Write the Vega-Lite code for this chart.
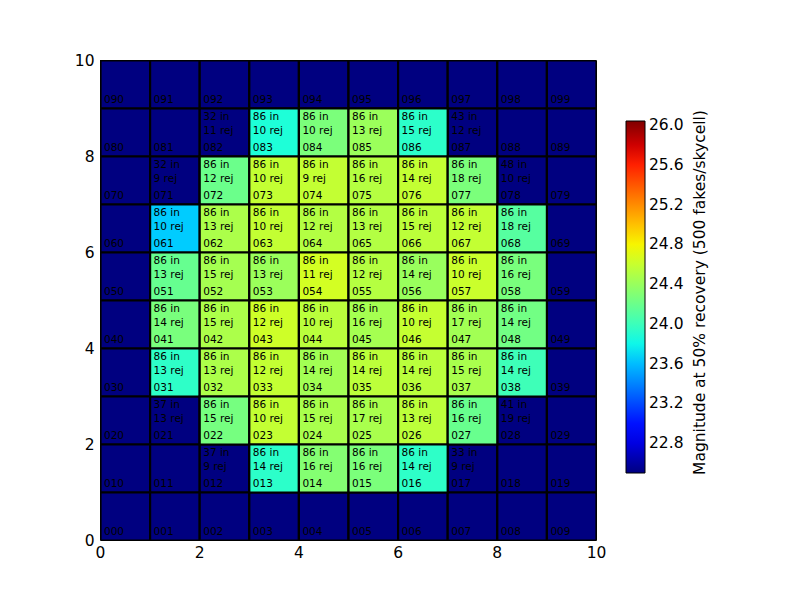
{
  "$schema": "https://vega.github.io/schema/vega-lite/v6.json",
  "width": 496,
  "height": 480,
  "autosize": "none",
  "padding": {"left": 100, "top": 60, "right": 204, "bottom": 60},
  "background": "white",
  "config": {
    "font": "DejaVu Sans",
    "view": {"stroke": "black", "strokeWidth": 1},
    "axis": {"labelFont": "DejaVu Sans", "labelFontSize": 15.5, "labelColor": "black", "ticks": false, "domain": false, "grid": false, "title": null},
    "legend": {"labelFont": "DejaVu Sans", "titleFont": "DejaVu Sans"}
  },
  "resolve": {"axis": {"y": "independent"}},
  "data": {"values": [
    {"col":0,"row":9,"id":"090"},{"col":1,"row":9,"id":"091"},{"col":2,"row":9,"id":"092"},{"col":3,"row":9,"id":"093"},{"col":4,"row":9,"id":"094"},{"col":5,"row":9,"id":"095"},{"col":6,"row":9,"id":"096"},{"col":7,"row":9,"id":"097"},{"col":8,"row":9,"id":"098"},{"col":9,"row":9,"id":"099"},
    {"col":0,"row":8,"id":"080"},{"col":1,"row":8,"id":"081"},{"col":2,"row":8,"id":"082","nin":32,"nrej":11},{"col":3,"row":8,"id":"083","mag":23.87,"nin":86,"nrej":10},{"col":4,"row":8,"id":"084","mag":24.27,"nin":86,"nrej":10},{"col":5,"row":8,"id":"085","mag":24.41,"nin":86,"nrej":13},{"col":6,"row":8,"id":"086","mag":23.93,"nin":86,"nrej":15},{"col":7,"row":8,"id":"087","nin":43,"nrej":12},{"col":8,"row":8,"id":"088"},{"col":9,"row":8,"id":"089"},
    {"col":0,"row":7,"id":"070"},{"col":1,"row":7,"id":"071","nin":32,"nrej":9},{"col":2,"row":7,"id":"072","mag":24.20,"nin":86,"nrej":12},{"col":3,"row":7,"id":"073","mag":24.58,"nin":86,"nrej":10},{"col":4,"row":7,"id":"074","mag":24.58,"nin":86,"nrej":9},{"col":5,"row":7,"id":"075","mag":24.52,"nin":86,"nrej":16},{"col":6,"row":7,"id":"076","mag":24.58,"nin":86,"nrej":14},{"col":7,"row":7,"id":"077","mag":24.27,"nin":86,"nrej":18},{"col":8,"row":7,"id":"078","nin":48,"nrej":10},{"col":9,"row":7,"id":"079"},
    {"col":0,"row":6,"id":"060"},{"col":1,"row":6,"id":"061","mag":23.65,"nin":86,"nrej":10},{"col":2,"row":6,"id":"062","mag":24.48,"nin":86,"nrej":13},{"col":3,"row":6,"id":"063","mag":24.58,"nin":86,"nrej":10},{"col":4,"row":6,"id":"064","mag":24.51,"nin":86,"nrej":12},{"col":5,"row":6,"id":"065","mag":24.51,"nin":86,"nrej":13},{"col":6,"row":6,"id":"066","mag":24.55,"nin":86,"nrej":15},{"col":7,"row":6,"id":"067","mag":24.58,"nin":86,"nrej":12},{"col":8,"row":6,"id":"068","mag":24.11,"nin":86,"nrej":18},{"col":9,"row":6,"id":"069"},
    {"col":0,"row":5,"id":"050"},{"col":1,"row":5,"id":"051","mag":24.18,"nin":86,"nrej":13},{"col":2,"row":5,"id":"052","mag":24.45,"nin":86,"nrej":15},{"col":3,"row":5,"id":"053","mag":24.41,"nin":86,"nrej":13},{"col":4,"row":5,"id":"054","mag":24.65,"nin":86,"nrej":11},{"col":5,"row":5,"id":"055","mag":24.52,"nin":86,"nrej":12},{"col":6,"row":5,"id":"056","mag":24.40,"nin":86,"nrej":14},{"col":7,"row":5,"id":"057","mag":24.61,"nin":86,"nrej":10},{"col":8,"row":5,"id":"058","mag":24.26,"nin":86,"nrej":16},{"col":9,"row":5,"id":"059"},
    {"col":0,"row":4,"id":"040"},{"col":1,"row":4,"id":"041","mag":24.26,"nin":86,"nrej":14},{"col":2,"row":4,"id":"042","mag":24.48,"nin":86,"nrej":15},{"col":3,"row":4,"id":"043","mag":24.63,"nin":86,"nrej":12},{"col":4,"row":4,"id":"044","mag":24.54,"nin":86,"nrej":10},{"col":5,"row":4,"id":"045","mag":24.45,"nin":86,"nrej":16},{"col":6,"row":4,"id":"046","mag":24.59,"nin":86,"nrej":10},{"col":7,"row":4,"id":"047","mag":24.44,"nin":86,"nrej":17},{"col":8,"row":4,"id":"048","mag":24.23,"nin":86,"nrej":14},{"col":9,"row":4,"id":"049"},
    {"col":0,"row":3,"id":"030"},{"col":1,"row":3,"id":"031","mag":23.94,"nin":86,"nrej":13},{"col":2,"row":3,"id":"032","mag":24.48,"nin":86,"nrej":13},{"col":3,"row":3,"id":"033","mag":24.58,"nin":86,"nrej":12},{"col":4,"row":3,"id":"034","mag":24.44,"nin":86,"nrej":14},{"col":5,"row":3,"id":"035","mag":24.55,"nin":86,"nrej":14},{"col":6,"row":3,"id":"036","mag":24.54,"nin":86,"nrej":14},{"col":7,"row":3,"id":"037","mag":24.47,"nin":86,"nrej":15},{"col":8,"row":3,"id":"038","mag":24.01,"nin":86,"nrej":14},{"col":9,"row":3,"id":"039"},
    {"col":0,"row":2,"id":"020"},{"col":1,"row":2,"id":"021","nin":37,"nrej":13},{"col":2,"row":2,"id":"022","mag":24.25,"nin":86,"nrej":15},{"col":3,"row":2,"id":"023","mag":24.58,"nin":86,"nrej":10},{"col":4,"row":2,"id":"024","mag":24.47,"nin":86,"nrej":15},{"col":5,"row":2,"id":"025","mag":24.47,"nin":86,"nrej":17},{"col":6,"row":2,"id":"026","mag":24.55,"nin":86,"nrej":13},{"col":7,"row":2,"id":"027","mag":24.19,"nin":86,"nrej":16},{"col":8,"row":2,"id":"028","nin":41,"nrej":19},{"col":9,"row":2,"id":"029"},
    {"col":0,"row":1,"id":"010"},{"col":1,"row":1,"id":"011"},{"col":2,"row":1,"id":"012","nin":37,"nrej":9},{"col":3,"row":1,"id":"013","mag":23.93,"nin":86,"nrej":14},{"col":4,"row":1,"id":"014","mag":24.31,"nin":86,"nrej":16},{"col":5,"row":1,"id":"015","mag":24.27,"nin":86,"nrej":16},{"col":6,"row":1,"id":"016","mag":23.94,"nin":86,"nrej":14},{"col":7,"row":1,"id":"017","nin":33,"nrej":9},{"col":8,"row":1,"id":"018"},{"col":9,"row":1,"id":"019"},
    {"col":0,"row":0,"id":"000"},{"col":1,"row":0,"id":"001"},{"col":2,"row":0,"id":"002"},{"col":3,"row":0,"id":"003"},{"col":4,"row":0,"id":"004"},{"col":5,"row":0,"id":"005"},{"col":6,"row":0,"id":"006"},{"col":7,"row":0,"id":"007"},{"col":8,"row":0,"id":"008"},{"col":9,"row":0,"id":"009"}
  ]},
  "layer": [
    {"mark": {"type": "rect", "fill": "#000080", "stroke": "black", "strokeWidth": 2.2, "clip": true},
     "encoding": {
       "x": {"field": "col", "type": "quantitative", "bin": {"step": 1, "extent": [0, 10]}, "scale": {"domain": [0, 10], "nice": false, "zero": false}, "axis": {"values": [0, 2, 4, 6, 8, 10], "labelPadding": 5, "format": "d", "labelFlush": false}, "title": null},
       "y": {"field": "row", "type": "quantitative", "bin": {"step": 1, "extent": [0, 10]}, "scale": {"domain": [0, 10], "nice": false, "zero": false}, "axis": {"values": [0, 2, 4, 6, 8, 10], "labelPadding": 6, "format": "d", "labelFlush": false}, "title": null}
     }},
    {"mark": {"type": "rect", "stroke": "black", "strokeWidth": 2.2, "clip": true},
     "encoding": {
       "x": {"field": "col", "type": "quantitative", "bin": {"step": 1, "extent": [0, 10]}},
       "y": {"field": "row", "type": "quantitative", "bin": {"step": 1, "extent": [0, 10]}, "axis": null},
       "color": {"field": "mag", "type": "quantitative",
         "scale": {"domain": [22.5, 22.889, 22.9425, 23.7036, 23.739, 23.8275, 24.7656, 24.801, 24.8364, 25.6506, 25.7214, 26.04],
                   "range": ["#000080", "#0000ff", "#0000ff", "#00dbff", "#00e5f7", "#14ffe2", "#eeff08", "#f7f500", "#ffec00", "#ff1300", "#e80000", "#800000"],
                   "clamp": true, "nice": false, "zero": false, "interpolate": "rgb"},
         "legend": {"orient": "none", "legendX": 526, "legendY": 61, "padding": 0, "direction": "vertical",
           "gradientLength": 352, "gradientThickness": 19, "gradientStrokeColor": "black", "gradientStrokeWidth": 1,
           "values": [22.8, 23.2, 23.6, 24.0, 24.4, 24.8, 25.2, 25.6, 26.0], "format": ".1f",
           "labelFontSize": 15.5, "labelColor": "black", "labelOffset": 4, "labelOverlap": false,
           "title": null}}
     }},
    {"mark": {"type": "text", "align": "left", "baseline": "alphabetic", "dx": 4, "dy": -5, "fontSize": 10.5, "color": "black"},
     "encoding": {"x": {"field": "col", "type": "quantitative"},
       "y": {"field": "row", "type": "quantitative", "axis": {"orient": "right", "offset": 96, "labels": false, "ticks": false, "domain": false,
         "title": "Magnitude at 50% recovery (500 fakes/skycell)", "titleAngle": 270, "titleBaseline": "top", "titlePadding": 0, "titleAnchor": "middle", "titleY": 232,
         "titleFont": "DejaVu Sans", "titleFontSize": 15.5, "titleFontWeight": "normal", "titleColor": "black", "titleLimit": 0}},
       "text": {"field": "id", "type": "nominal"}}},
    {"transform": [{"filter": "datum.nin != null"}],
     "mark": {"type": "text", "align": "left", "baseline": "alphabetic", "dx": 4, "dy": -22, "fontSize": 10.5, "color": "black", "text": {"expr": "datum.nrej + ' rej'"}},
     "encoding": {"x": {"field": "col", "type": "quantitative"}, "y": {"field": "row", "type": "quantitative", "axis": null}}},
    {"transform": [{"filter": "datum.nin != null"}],
     "mark": {"type": "text", "align": "left", "baseline": "alphabetic", "dx": 4, "dy": -36, "fontSize": 10.5, "color": "black", "text": {"expr": "datum.nin + ' in'"}},
     "encoding": {"x": {"field": "col", "type": "quantitative"}, "y": {"field": "row", "type": "quantitative", "axis": null}}}
  ]
}
